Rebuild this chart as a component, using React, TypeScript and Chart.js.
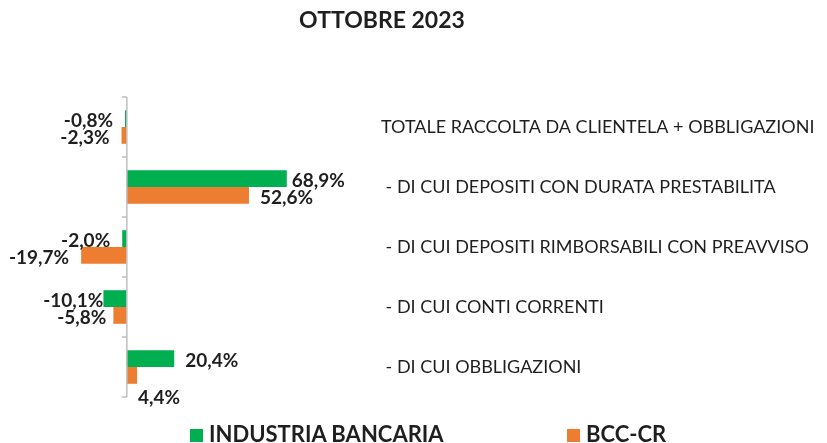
import React, { useEffect, useRef } from "react";
import { Chart, registerables } from "chart.js";

Chart.register(...registerables);

const chartTitle = "OTTOBRE 2023";
const categories = [
  "TOTALE RACCOLTA DA CLIENTELA + OBBLIGAZIONI",
  " - DI CUI DEPOSITI CON DURATA PRESTABILITA",
  " - DI CUI DEPOSITI RIMBORSABILI CON PREAVVISO",
  " - DI CUI CONTI CORRENTI",
  " - DI CUI OBBLIGAZIONI",
];
const seriesNames = ["INDUSTRIA BANCARIA", "BCC-CR"];
const industriaBancaria = [-0.8, 68.9, -2.0, -10.1, 20.4];
const bccCr = [-2.3, 52.6, -19.7, -5.8, 4.4];

const GREEN = "#00B050";
const ORANGE = "#ED7D31";
const TEXT = "#1f1f1f";
const FONT = "Lato";

// label placement tweaks (style, not data): key = datasetIndex-index
const labelNudges: Record<string, [number, number]> = {
  "0-1": [-6, 0],
  "0-3": [12, 0],
  "1-3": [5, 0],
  "1-4": [-10, 20],
};

const fmt = (v: number) => v.toFixed(1).replace(".", ",") + "%";

const decorPlugin = {
  id: "decor",
  afterDatasetsDraw(chart: any) {
    const { ctx, chartArea, scales } = chart;
    const x0 = scales.x.getPixelForValue(0);
    const n = categories.length;
    ctx.save();
    // axis line + tick marks
    ctx.strokeStyle = "#BFBFBF";
    ctx.lineWidth = 1.5;
    ctx.beginPath();
    ctx.moveTo(x0, chartArea.top);
    ctx.lineTo(x0, chartArea.bottom);
    for (let i = 0; i <= n; i++) {
      const y = chartArea.top + (i * (chartArea.bottom - chartArea.top)) / n;
      ctx.moveTo(x0 - 5, y);
      ctx.lineTo(x0, y);
    }
    ctx.stroke();

    // category labels on the right
    ctx.fillStyle = TEXT;
    ctx.font = `18px ${FONT}`;
    ctx.textAlign = "left";
    ctx.textBaseline = "middle";
    categories.forEach((c, i) => {
      const y = scales.y.getPixelForValue(i);
      ctx.fillText(c, chartArea.right + 22, y);
    });

    // data labels
    ctx.font = `bold 19px ${FONT}`;
    chart.data.datasets.forEach((ds: any, di: number) => {
      const meta = chart.getDatasetMeta(di);
      meta.data.forEach((el: any, i: number) => {
        const v = ds.data[i];
        const nudge = labelNudges[`${di}-${i}`] || [0, 0];
        let x: number;
        if (v >= 0) {
          ctx.textAlign = "left";
          x = el.x + 11;
        } else {
          ctx.textAlign = "right";
          x = el.x - 12;
        }
        ctx.fillText(fmt(v), x + nudge[0], el.y + 2 + nudge[1]);
      });
    });
    ctx.restore();
  },
};

export default function App() {
  const ref = useRef<HTMLCanvasElement>(null);
  useEffect(() => {
    const chart = new Chart(ref.current!, {
      type: "bar",
      data: {
        labels: categories,
        datasets: [
          {
            label: seriesNames[0],
            data: industriaBancaria,
            backgroundColor: GREEN,
            categoryPercentage: 0.56,
            barPercentage: 1,
          },
          {
            label: seriesNames[1],
            data: bccCr,
            backgroundColor: ORANGE,
            categoryPercentage: 0.56,
            barPercentage: 1,
          },
        ],
      },
      options: {
        indexAxis: "y",
        responsive: false,
        animation: false,
        devicePixelRatio: 1,
        layout: { padding: { left: 34, right: 468, top: 97, bottom: 46 } },
        plugins: { legend: { display: false }, title: { display: false }, tooltip: { enabled: false } },
        scales: {
          x: { display: false, min: -40, max: 100 },
          y: { display: false },
        },
      },
      plugins: [decorPlugin],
    });
    return () => chart.destroy();
  }, []);

  const legendText: React.CSSProperties = {
    font: `bold 22px ${FONT}`,
    color: TEXT,
    lineHeight: "22px",
    whiteSpace: "nowrap",
  };
  const sq = (c: string): React.CSSProperties => ({
    display: "inline-block",
    width: 13,
    height: 13,
    background: c,
    marginRight: 6,
    verticalAlign: "0px",
  });

  return (
    <div style={{ position: "fixed", left: 0, top: 0, width: 827, height: 443, background: "#fff", overflow: "hidden" }}>
      <canvas ref={ref} width={827} height={443} style={{ position: "absolute", left: 0, top: 0 }} />
      <div style={{ position: "absolute", left: 0, top: 5, width: 764, textAlign: "center", font: `bold 23px ${FONT}`, color: TEXT }}>
        {chartTitle}
      </div>
      <div style={{ position: "absolute", left: 190, top: 423, ...legendText }}>
        <span style={sq(GREEN)} />
        {seriesNames[0]}
      </div>
      <div style={{ position: "absolute", left: 567, top: 423, ...legendText }}>
        <span style={sq(ORANGE)} />
        {seriesNames[1]}
      </div>
    </div>
  );
}
